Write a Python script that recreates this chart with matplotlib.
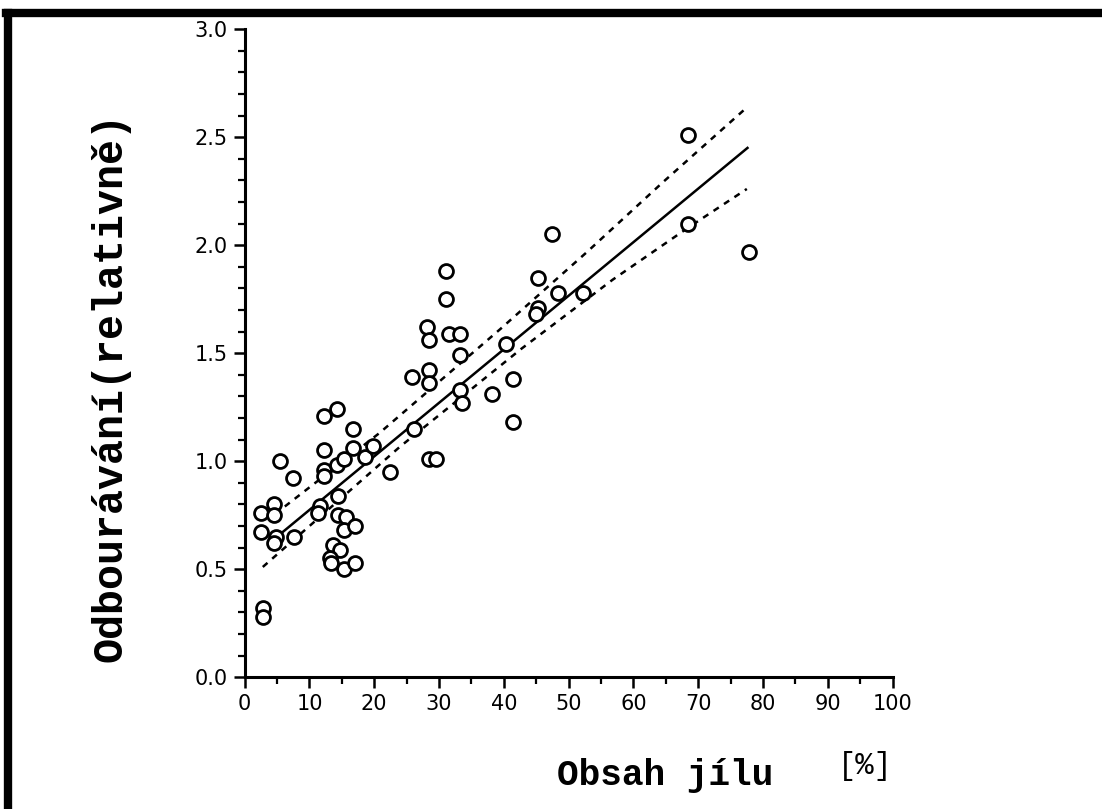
import numpy as np
import matplotlib
matplotlib.use("Agg")
import matplotlib.pyplot as plt
from matplotlib.lines import Line2D
from matplotlib.ticker import MultipleLocator

# clay content [%] vs. relative decomposition
clay = [2.8, 2.8, 2.6, 2.6, 4.5, 4.6, 4.8, 4.6, 5.4, 7.4, 7.6,
        12.3, 14.3, 16.7, 12.3, 12.2, 12.3, 14.2, 15.4, 16.7,
        11.6, 11.3, 14.4, 14.4, 15.7, 15.4, 17.1,
        13.6, 14.7, 13.1, 13.4, 15.3, 17.1,
        18.5, 19.8, 22.4, 26.2, 28.5, 29.6,
        31.0, 31.0, 28.2, 28.5, 31.6, 33.2, 33.2, 25.9, 28.5, 28.5,
        33.2, 33.5, 38.1, 41.4, 41.4, 40.3,
        45.2, 48.3, 52.2, 45.2, 44.9, 47.5,
        68.4, 68.4, 77.8]
decomp = [0.32, 0.28, 0.76, 0.67, 0.80, 0.75, 0.65, 0.62, 1.00, 0.92, 0.65,
          1.21, 1.24, 1.15, 1.05, 0.96, 0.93, 0.98, 1.01, 1.06,
          0.79, 0.76, 0.84, 0.75, 0.74, 0.68, 0.70,
          0.61, 0.59, 0.55, 0.53, 0.50, 0.53,
          1.02, 1.07, 0.95, 1.15, 1.01, 1.01,
          1.88, 1.75, 1.62, 1.56, 1.59, 1.59, 1.49, 1.39, 1.42, 1.36,
          1.33, 1.27, 1.31, 1.38, 1.18, 1.54,
          1.85, 1.78, 1.78, 1.71, 1.68, 2.05,
          2.51, 2.10, 1.97]

# regression line and confidence band
fit_x = [5.4, 77.6]
fit_y = [0.66, 2.45]
upper_x = [6.2, 20.8, 39.4, 52.9, 64.5, 77.6]
upper_y = [0.79, 1.13, 1.61, 1.97, 2.29, 2.64]
lower_x = [2.8, 23.9, 42.7, 56.8, 68.4, 77.5]
lower_y = [0.51, 1.065, 1.52, 1.84, 2.08, 2.26]

fig = plt.figure(figsize=(11.02, 8.09), dpi=100)
ax = fig.add_axes([0.222, 0.163, 0.588, 0.801])

ax.plot(clay, decomp, "o", mfc="white", mec="black", ms=10, mew=2.0, zorder=3)
ax.plot(fit_x, fit_y, color="black", lw=1.8)
ax.plot(upper_x, upper_y, color="black", lw=1.8, linestyle=(0, (2.5, 2.5)))
ax.plot(lower_x, lower_y, color="black", lw=1.8, linestyle=(0, (2.5, 2.5)))

ax.set_xlim(0, 100)
ax.set_ylim(0, 3.0)
ax.spines["top"].set_visible(False)
ax.spines["right"].set_visible(False)
ax.spines["left"].set_linewidth(2.2)
ax.spines["bottom"].set_linewidth(2.2)

ax.xaxis.set_major_locator(MultipleLocator(10))
ax.xaxis.set_minor_locator(MultipleLocator(5))
ax.yaxis.set_major_locator(MultipleLocator(0.5))
ax.yaxis.set_minor_locator(MultipleLocator(0.1))
ax.tick_params(which="major", direction="out", length=8, width=1.8,
               labelsize=15, pad=4)
ax.tick_params(which="minor", direction="out", length=5, width=1.6)
ax.set_yticks(np.arange(0, 3.01, 0.5))
ax.set_yticklabels(["0.0", "0.5", "1.0", "1.5", "2.0", "2.5", "3.0"])

fig.text(0.100, 0.522, "Odbourávání(relativně)", family="Liberation Mono",
         fontweight="bold", fontsize=30, rotation=90,
         ha="center", va="center")
fig.text(0.604, 0.041, "Obsah jílu", family="Liberation Mono",
         fontweight="bold", fontsize=26, ha="center", va="center")
fig.text(0.785, 0.053, "[%]", family="Liberation Mono",
         fontsize=22, ha="center", va="center")

# thick border along the top and left of the page
fig.add_artist(Line2D([0.005, 1.0], [0.984, 0.984], color="black", lw=6,
                      transform=fig.transFigure))
fig.add_artist(Line2D([0.007, 0.007], [0.0, 0.984], color="black", lw=6,
                      transform=fig.transFigure))

fig.savefig("out.png", dpi=100, facecolor="white")
